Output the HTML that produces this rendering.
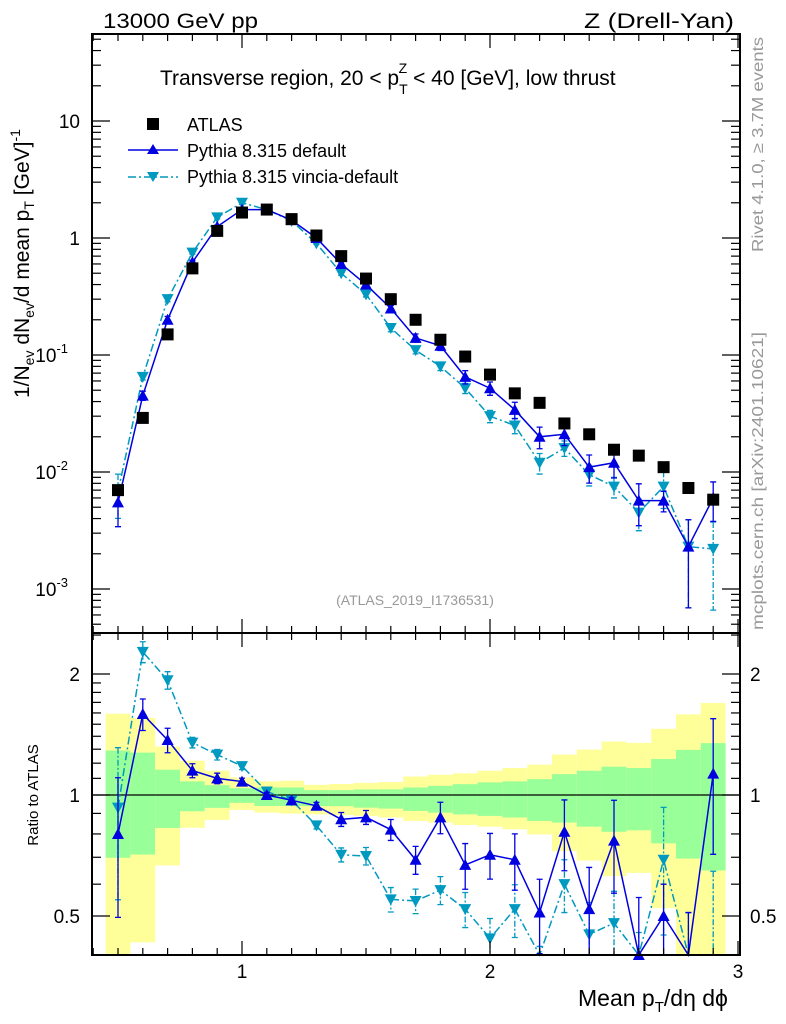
<!DOCTYPE html>
<html><head><meta charset="utf-8"><style>
html,body{margin:0;padding:0;background:#fff;}
svg{display:block;font-family:"Liberation Sans",sans-serif;}
</style></head><body>
<svg id="chart" width="786" height="1024" viewBox="0 0 786 1024" xmlns="http://www.w3.org/2000/svg">
<g id="bands"></g>
<g id="marks"></g>
<g id="axes"></g>
<text x="103" y="28" font-size="21" textLength="155" lengthAdjust="spacingAndGlyphs">13000 GeV pp</text>
<text x="584" y="28" font-size="21" textLength="150" lengthAdjust="spacingAndGlyphs">Z (Drell-Yan)</text>
<text x="160" y="85" font-size="21">Transverse region, 20 &lt; p<tspan dy="9" font-size="14">T</tspan><tspan dx="-9" dy="-21" font-size="14">Z</tspan><tspan dy="12"> &lt; 40 [GeV], low thrust</tspan></text>
<text x="415" y="605" font-size="14" fill="#999" text-anchor="middle">(ATLAS_2019_I1736531)</text>
<text transform="translate(763,252) rotate(-90)" font-size="16" fill="#999" textLength="215" lengthAdjust="spacingAndGlyphs">Rivet 4.1.0, ≥ 3.7M events</text>
<text transform="translate(763,630) rotate(-90)" font-size="16" fill="#999" textLength="298" lengthAdjust="spacingAndGlyphs">mcplots.cern.ch [arXiv:2401.10621]</text>
<text transform="translate(29,398) rotate(-90)" font-size="21">1/N<tspan font-size="14" dy="5">ev</tspan><tspan dy="-5"> dN</tspan><tspan font-size="14" dy="5">ev</tspan><tspan dy="-5">/d mean p</tspan><tspan font-size="14" dy="5">T</tspan><tspan dy="-5"> [GeV]</tspan><tspan font-size="14" dy="-9">-1</tspan></text>
<text transform="translate(38,795) rotate(-90)" font-size="15" text-anchor="middle">Ratio to ATLAS</text>
<text x="578" y="1006" font-size="23">Mean p<tspan font-size="15" dy="6">T</tspan><tspan dy="-6">/dη dϕ</tspan></text>
<g>
<rect x="147" y="118" width="12" height="12" fill="#000"/>
<text x="187" y="131" font-size="18">ATLAS</text>
<line x1="128" y1="150" x2="178" y2="150" stroke="#0000e0" stroke-width="1.5"/>
<polygon points="153,144 159,154 147,154" fill="#0000e0"/>
<text x="187" y="157" font-size="18">Pythia 8.315 default</text>
<line x1="128" y1="177" x2="178" y2="177" stroke="#0099c0" stroke-width="1.5" stroke-dasharray="8,3,2,3"/>
<polygon points="147,172 159,172 153,182" fill="#0099c0"/>
<text x="187" y="183" font-size="18">Pythia 8.315 vincia-default</text>
</g>
</svg>
<script>
const xs = [0.5,0.6,0.7,0.8,0.9,1.0,1.1,1.2,1.3,1.4,1.5,1.6,1.7,1.8,1.9,2.0,2.1,2.2,2.3,2.4,2.5,2.6,2.7,2.8,2.9];
const atlas = [0.007,0.029,0.15,0.55,1.15,1.65,1.75,1.45,1.05,0.7,0.45,0.3,0.2,0.135,0.097,0.068,0.047,0.039,0.026,0.021,0.0155,0.0138,0.011,0.0073,0.0058];
const pyDef = [0.0055,0.045,0.2,0.62,1.25,1.75,1.75,1.42,1.0,0.6,0.4,0.25,0.14,0.12,0.065,0.052,0.034,0.02,0.021,0.011,0.012,0.0057,0.0057,0.0023,0.006];
const pyVin = [0.0068,0.065,0.3,0.75,1.5,2.0,1.75,1.4,0.9,0.5,0.33,0.17,0.11,0.08,0.052,0.03,0.025,0.012,0.016,0.0095,0.0075,0.0045,0.0075,0.0023,0.0022];
const relErrDef = [0.38,0.09,0.07,0.04,0.03,0.02,0.015,0.015,0.02,0.04,0.04,0.06,0.08,0.09,0.13,0.13,0.16,0.21,0.2,0.27,0.26,0.39,0.2,0.7,0.37];
const relErrVin = [0.41,0.06,0.05,0.03,0.03,0.02,0.015,0.015,0.02,0.04,0.05,0.07,0.07,0.08,0.1,0.12,0.15,0.2,0.15,0.2,0.2,0.3,0.35,0.7,0.7];
const ratioDef = [0.80,1.59,1.37,1.15,1.10,1.08,1.0,0.97,0.94,0.87,0.88,0.82,0.69,0.88,0.67,0.71,0.69,0.51,0.81,0.52,0.77,0.40,0.50,0.30,1.13];
const ratioVin = [0.93,2.27,1.93,1.35,1.26,1.18,1.02,0.97,0.84,0.71,0.705,0.55,0.545,0.58,0.52,0.44,0.52,0.35,0.60,0.45,0.48,0.35,0.69,0.30,0.38];
const yellowHi = [1.593,1.556,1.32,1.217,1.149,1.106,1.081,1.085,1.060,1.065,1.072,1.077,1.112,1.123,1.132,1.149,1.167,1.19,1.26,1.297,1.358,1.348,1.461,1.587,1.694];
const yellowLo = [0.401,0.430,0.668,0.829,0.867,0.918,0.904,0.899,0.895,0.892,0.887,0.879,0.862,0.854,0.842,0.834,0.822,0.798,0.725,0.687,0.628,0.640,0.523,0.40,0.40];
const greenHi = [1.29,1.275,1.156,1.081,1.058,1.040,1.044,1.044,1.028,1.028,1.032,1.033,1.044,1.054,1.064,1.075,1.081,1.095,1.127,1.149,1.176,1.167,1.229,1.295,1.346];
const greenLo = [0.698,0.711,0.828,0.911,0.929,0.956,0.939,0.939,0.938,0.938,0.930,0.925,0.913,0.904,0.895,0.887,0.879,0.862,0.854,0.834,0.810,0.817,0.758,0.695,0.649];
const logTicks = [10,1,0.1,0.01,0.001];
const logTickLabels = ["10","1","10","10","10"];
const logTickExp = ["","","-1","-2","-3"];
const ratioTicks = [2,1,0.5];
const ratioTickLabels = ["2","1","0.5"];
const xTicks = [1,2,3];

const NS="http://www.w3.org/2000/svg";
const L=92,R=740,T=34,MB=633,RB=955;
const X=v=>242+(v-1)*248;
const Y=v=>238-117*Math.log10(v);
const YR=v=>Math.min(RB,Math.max(MB,795-121*Math.log2(v)));
const clipMain=y=>Math.min(MB,Math.max(T,y));
function mk(tag,attrs,parent){const e=document.createElementNS(NS,tag);for(const k in attrs)e.setAttribute(k,attrs[k]);parent.appendChild(e);return e;}
const bands=document.getElementById('bands'),marks=document.getElementById('marks'),axes=document.getElementById('axes');

xs.forEach((x,i)=>{
  const x0=X(x-0.05),x1=X(x+0.05);
  let r=mk('rect',{x:x0,y:YR(yellowHi[i]),width:x1-x0,height:YR(yellowLo[i])-YR(yellowHi[i]),fill:'#ffff99'},bands);
  
  
  r=mk('rect',{x:x0,y:YR(greenHi[i]),width:x1-x0,height:YR(greenLo[i])-YR(greenHi[i]),fill:'#99ff99'},bands);
  
  
});
let ref=mk('line',{x1:L,x2:R,y1:YR(1),y2:YR(1),stroke:'#000','stroke-width':1.3},bands);



function series(vals,rel,col,dash,down,yf,name){
  const pts=xs.map((x,i)=>X(x)+','+yf(vals[i])).join(' ');
  const pl=mk('polyline',{points:pts,fill:'none',stroke:col,'stroke-width':1.5},marks);
  if(dash)pl.setAttribute('stroke-dasharray',dash);
  
  
  xs.forEach((x,i)=>{
    const cx=X(x),v=vals[i],e=v*rel[i];
    const yt=yf(v+e),yb=yf(Math.max(v-e,1e-6));
    const eb=mk('path',{d:`M${cx},${yt}V${yb}M${cx-3},${yt}h6M${cx-3},${yb}h6`,stroke:col,'stroke-width':1.3,fill:'none'},marks);
    if(dash)eb.setAttribute('stroke-dasharray','6,2,2,2');
    
    
    const cy=yf(v);
    if(cy>=RB||cy<=T)return;
    const p=down?`${cx-6},${cy-5} ${cx+6},${cy-5} ${cx},${cy+6}`:`${cx},${cy-6} ${cx+6},${cy+5} ${cx-6},${cy+5}`;
    const m=mk('polygon',{points:p,fill:col},marks);
    
    
  });
}
const YM=v=>clipMain(Y(v));
series(pyVin,relErrVin,'#0099c0','8,3,2,3',true,YM,'vincia');
series(pyDef,relErrDef,'#0000e0',null,false,YM,'default');
xs.forEach((x,i)=>{
  const s=mk('rect',{x:X(x)-6,y:Y(atlas[i])-6,width:12,height:12,fill:'#000'},marks);
  
  
});
series(ratioVin,relErrVin,'#0099c0','8,3,2,3',true,YR,'vincia-ratio');
series(ratioDef,relErrDef,'#0000e0',null,false,YR,'default-ratio');

[[T,MB],[MB,RB]].forEach(([a,b],k)=>{
  const f=mk('rect',{x:L,y:a,width:R-L,height:b-a,fill:'none',stroke:'#000','stroke-width':2},axes);
  
  
});
for(let v=0.4;v<=3.001;v+=0.1){
  const x=X(v),maj=Math.abs(v-Math.round(v))<0.01;const len=maj?14:7;
  [[T,1],[MB,-1],[MB,1],[RB,-1]].forEach(([y,d])=>{
    const t=mk('line',{x1:x,x2:x,y1:y,y2:y+d*len,stroke:'#000','stroke-width':1.2},axes);
    
    
  });
}
xTicks.forEach(v=>{
  const t=mk('text',{x:X(v),y:978,'font-size':19,'text-anchor':'middle'},axes);
  t.textContent=v;
  
  
});
for(let d=-4;d<=1;d++)for(let m=1;m<10;m++){
  const v=m*Math.pow(10,d),y=Y(v);if(y<T||y>MB)continue;
  const len=m==1?18:9;
  [[L,1],[R,-1]].forEach(([x,s])=>{
    const t=mk('line',{x1:x,x2:x+s*len,y1:y,y2:y,stroke:'#000','stroke-width':1.2},axes);
    
    
  });
}
logTicks.forEach((v,i)=>{
  const t=mk('text',{x:logTickExp[i]?68:80,y:Y(v)+7,'font-size':19,'text-anchor':'end'},axes);
  t.textContent=logTickLabels[i];
  
  
  if(logTickExp[i]){const s=mk('tspan',{'font-size':13,dy:-9},t);s.textContent=logTickExp[i];}
});
[0.4,0.5,0.6,0.7,0.8,0.9,1,1.1,1.2,1.3,1.4,1.5,1.6,1.7,1.8,1.9,2,2.5].forEach(v=>{
  const y=YR(v);if(y<=MB||y>=RB)return;const maj=(v==0.5||v==1||v==2);const len=maj?18:9;
  [[L,1],[R,-1]].forEach(([x,s])=>{
    const t=mk('line',{x1:x,x2:x+s*len,y1:y,y2:y,stroke:'#000','stroke-width':1.2},axes);
    
    
  });
});
ratioTicks.forEach((v,i)=>{
  [[80,'end'],[750,'start']].forEach(([x,a])=>{
    const t=mk('text',{x:x,y:YR(v)+7,'font-size':19,'text-anchor':a},axes);
    t.textContent=ratioTickLabels[i];
    
    
  });
});
</script>
</body></html>
